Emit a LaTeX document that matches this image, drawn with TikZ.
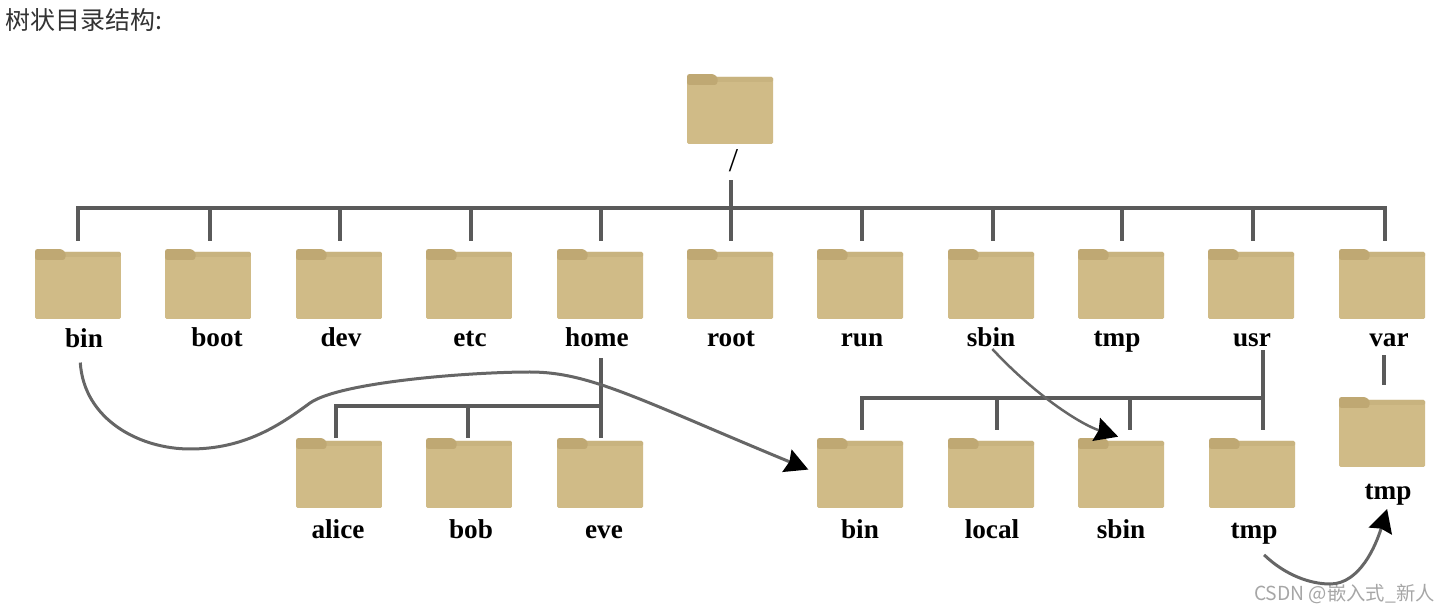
\documentclass[tikz,border=0pt]{standalone}
\usepackage{fontspec}
\setmainfont{Liberation Serif}
\newfontfamily\cjk{Noto Sans CJK SC}
\usetikzlibrary{positioning,arrows.meta,calc}
\definecolor{FolderBody}{HTML}{D0BB87}
\definecolor{FolderStrip}{HTML}{C8B37F}
\definecolor{FolderTab}{HTML}{BFA873}
\definecolor{TreeGray}{HTML}{5A5A5A}
\definecolor{CurveGray}{HTML}{666666}
\tikzset{
  folder/.style={minimum width=1.72cm, minimum height=1.4cm, inner sep=0pt, path picture={
    \fill[FolderBody, rounded corners=0.03cm] (-43,35) -- (-43,-32) -- (43,-32) -- (43,35) -- cycle;
    \fill[FolderStrip, rounded corners=0.03cm] (-43,-27) -- (-43,-32) -- (43,-32) -- (43,-27) -- cycle;
    \fill[FolderTab, rounded corners=0.05cm] (-43,-24) -- (-43,-35) -- (-16,-35) -- (-12,-31) -- (-13,-24) -- cycle;
  }},
  foldername/.style={inner sep=0pt, anchor=base, font=\fontsize{15.5}{18}\selectfont\bfseries},
  treeline/.style={TreeGray, line width=0.08cm, line cap=rect},
  curvearrow/.style={CurveGray, line width=0.06cm, -{Stealth[length=0.46cm, width=0.48cm, inset=0.05cm, black]}}
}
\begin{document}
\begin{tikzpicture}[x=0.02cm, y=-0.02cm]
\useasboundingbox (0,0) rectangle (1450,614);

% Heading and watermark
\node[anchor=west, inner sep=0pt, text=black!80, font=\cjk\fontsize{14.2}{17}\selectfont] (heading) at (5,20) {树状目录结构:};
\node[anchor=east, inner sep=0pt, text=black!35, font=\cjk\fontsize{11}{13}\selectfont] (watermark) at (1435,594) {CSDN @嵌入式\_新人};

% Root
\node[folder] (rootdir) at (730,109) {};
\node[inner sep=0pt, font=\fontsize{19}{21}\selectfont] (rootdirname) at (733.5,161) {/};

% First level folders
\node[folder] (binfolder) at (78,284) {};
\node[folder] (bootfolder) at (208,284) {};
\node[folder] (devfolder) at (339,284) {};
\node[folder] (etcfolder) at (469,284) {};
\node[folder] (homefolder) at (600,284) {};
\node[folder] (rootfolder) at (730,284) {};
\node[folder] (runfolder) at (860,284) {};
\node[folder] (sbinfolder) at (991,284) {};
\node[folder] (tmpfolder) at (1121,284) {};
\node[folder] (usrfolder) at (1251,284) {};
\node[folder] (varfolder) at (1382,284) {};

\node[foldername] (binname) at (84,348) {bin};
\node[foldername] (bootname) at (217,347) {boot};
\node[foldername] (devname) at (341,347) {dev};
\node[foldername] (etcname) at (470,347) {etc};
\node[foldername] (homename) at (597,347) {home};
\node[foldername] (rootname) at (731,347) {root};
\node[foldername] (runname) at (862,347) {run};
\node[foldername] (sbinname) at (991,347) {sbin};
\node[foldername] (tmpname) at (1117,347) {tmp};
\node[foldername] (usrname) at (1252,347) {usr};
\node[foldername] (varname) at (1389,347) {var};

% Second level folders
\node[folder] (alicefolder) at (339,473) {};
\node[folder] (bobfolder) at (469,473) {};
\node[folder] (evefolder) at (600,473) {};
\node[folder] (usrbinfolder) at (860,473) {};
\node[folder] (localfolder) at (991,473) {};
\node[folder] (usrsbinfolder) at (1121,473) {};
\node[folder] (usrtmpfolder) at (1252,473) {};
\node[folder] (vartmpfolder) at (1382,432) {};

\node[foldername] (alicename) at (338,539) {alice};
\node[foldername] (bobname) at (471,539) {bob};
\node[foldername] (evename) at (604,539) {eve};
\node[foldername] (usrbinname) at (860,539) {bin};
\node[foldername] (localname) at (992,539) {local};
\node[foldername] (usrsbinname) at (1121,539) {sbin};
\node[foldername] (usrtmpname) at (1254,539) {tmp};
\node[foldername] (vartmpname) at (1388,500) {tmp};

% Junctions on the horizontal bars
\coordinate (rootstem) at (731,182);
\coordinate (busbin) at (78,208);
\coordinate (busboot) at (210,208);
\coordinate (busdev) at (340,208);
\coordinate (busetc) at (471,208);
\coordinate (bushome) at (601,208);
\coordinate (busrun) at (862,208);
\coordinate (bussbin) at (993,208);
\coordinate (bustmp) at (1122,208);
\coordinate (bususr) at (1253,208);
\coordinate (busvar) at (1385,208);
\coordinate (homestem) at (601,360);
\coordinate (busalice) at (336,406);
\coordinate (busbob) at (468,406);
\coordinate (buseve) at (601,406);
\coordinate (usrstem) at (1263,352);
\coordinate (bususrbin) at (862,398);
\coordinate (buslocal) at (997,398);
\coordinate (bususrsbin) at (1130,398);
\coordinate (bususrtmp) at (1263,398);
\coordinate (varstem) at (1384,357);

% Root tree
\draw[treeline, shorten >=0.2cm] (rootstem) -- (rootstem |- rootfolder.north);
\draw[treeline] (busbin) -- (busvar);
\draw[treeline, shorten >=0.2cm] (busbin) -- (busbin |- binfolder.north);
\draw[treeline, shorten >=0.2cm] (busboot) -- (busboot |- bootfolder.north);
\draw[treeline, shorten >=0.2cm] (busdev) -- (busdev |- devfolder.north);
\draw[treeline, shorten >=0.2cm] (busetc) -- (busetc |- etcfolder.north);
\draw[treeline, shorten >=0.2cm] (bushome) -- (bushome |- homefolder.north);
\draw[treeline, shorten >=0.2cm] (busrun) -- (busrun |- runfolder.north);
\draw[treeline, shorten >=0.2cm] (bussbin) -- (bussbin |- sbinfolder.north);
\draw[treeline, shorten >=0.2cm] (bustmp) -- (bustmp |- tmpfolder.north);
\draw[treeline, shorten >=0.2cm] (bususr) -- (bususr |- usrfolder.north);
\draw[treeline, shorten >=0.2cm] (busvar) -- (busvar |- varfolder.north);

% Home tree
\draw[treeline, shorten >=0.04cm] (homestem) -- (homestem |- evefolder.north);
\draw[treeline] (busalice) -- (buseve);
\draw[treeline, shorten >=0.04cm] (busalice) -- (busalice |- alicefolder.north);
\draw[treeline, shorten >=0.04cm] (busbob) -- (busbob |- bobfolder.north);

% Usr tree
\draw[treeline, shorten >=0.2cm] (usrstem) -- (usrstem |- usrtmpfolder.north);
\draw[treeline] (bususrbin) -- (bususrtmp);
\draw[treeline, shorten >=0.2cm] (bususrbin) -- (bususrbin |- usrbinfolder.north);
\draw[treeline, shorten >=0.2cm] (buslocal) -- (buslocal |- localfolder.north);
\draw[treeline, shorten >=0.2cm] (bususrsbin) -- (bususrsbin |- usrsbinfolder.north);

% Var tree
\draw[treeline, shorten >=0.28cm] (varstem) -- (varstem |- vartmpfolder.north);

% Symbolic links
\draw[curvearrow, shorten <=0.28cm, shorten >=0.18cm] (binname.-115) .. controls (84,420) and (140,449) .. (190,449)
  .. controls (245,449) and (280,425) .. (310,403)
  .. controls (340,382) and (470,372) .. (530,372)
  .. controls (590,372) and (640,400) .. (usrbinfolder.west);
\draw[curvearrow, line width=0.05cm, shorten <=0.04cm, shorten >=0.06cm] (sbinname.south) .. controls (1035,395) and (1080,424) .. (usrsbinfolder.north);
\draw[curvearrow, shorten <=0.28cm, shorten >=0.06cm] (usrtmpname.south) .. controls (1285,575) and (1310,584) .. (1330,584)
  .. controls (1360,584) and (1376,545) .. (vartmpname.south);
\end{tikzpicture}
\end{document}
